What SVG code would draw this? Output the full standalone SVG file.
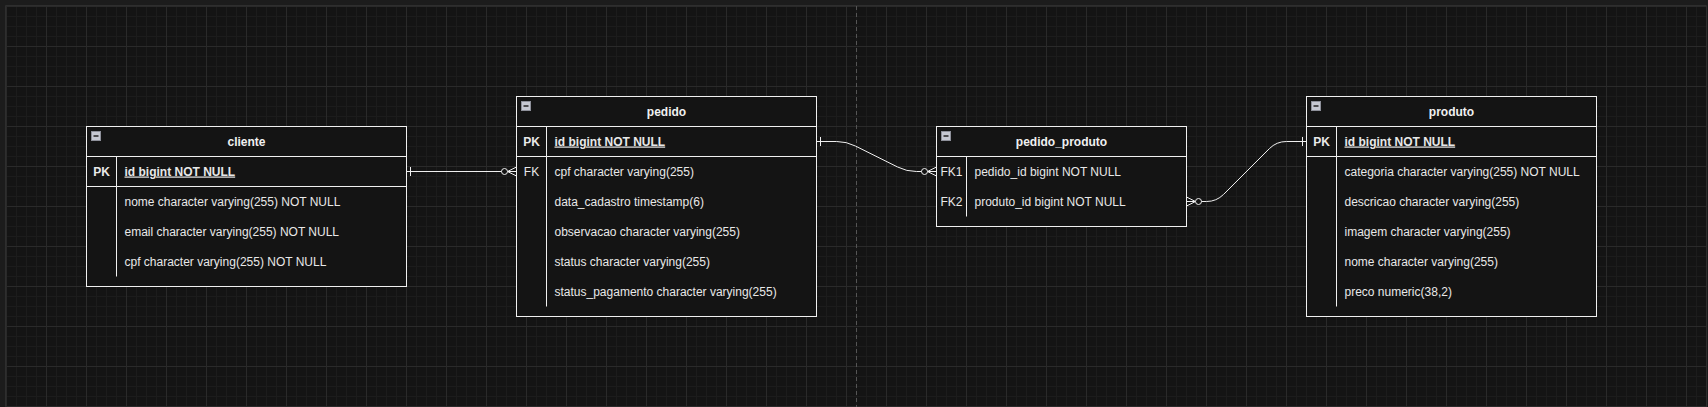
<svg xmlns="http://www.w3.org/2000/svg" width="1708" height="407" viewBox="0 0 1708 407">
<style>
.tbl{fill:#141414;stroke:#f0f0f0;stroke-width:1}
.ln{stroke:#f0f0f0;stroke-width:1;fill:none}
.t{font-family:"Liberation Sans",Arial,sans-serif;font-size:12px;fill:#e8e8e8}
.h{font-family:"Liberation Sans",Arial,sans-serif;font-size:12px;font-weight:bold;fill:#f0f0f0;text-anchor:middle}
.k{font-family:"Liberation Sans",Arial,sans-serif;font-size:12px;fill:#e8e8e8;text-anchor:middle}
.kb{font-weight:bold}
.pk{font-weight:bold;text-decoration:underline}
.edge{stroke:#f0f0f0;stroke-width:1;fill:none}
</style>
<defs>
<pattern id="grid" x="6" y="6" width="40" height="40" patternUnits="userSpaceOnUse">
<rect width="40" height="40" fill="#141414"/>
<path d="M10.5 0V40M20.5 0V40M30.5 0V40M0 10.5H40M0 20.5H40M0 30.5H40" stroke="#1c1c1c" stroke-width="1"/>
<path d="M0.5 0V40M0 0.5H40" stroke="#2a2a2a" stroke-width="1"/>
</pattern>
<marker id="one" markerUnits="userSpaceOnUse" orient="auto-start-reverse" refX="0" refY="0" markerWidth="30" markerHeight="30" viewBox="-15 -15 30 30" overflow="visible">
<path d="M-4 -4.5V4.5" stroke="#f0f0f0" stroke-width="1" fill="none"/>
</marker>
<marker id="zmany" markerUnits="userSpaceOnUse" orient="auto-start-reverse" refX="0" refY="0" markerWidth="30" markerHeight="30" viewBox="-15 -15 30 30" overflow="visible">
<path d="M-9 0L0 -4.5M-9 0L0 4.5" stroke="#f0f0f0" stroke-width="1" fill="none"/>
<circle cx="-12" cy="0" r="3" fill="#141414" stroke="#f0f0f0" stroke-width="1"/>
</marker>
<g id="collapse">
<rect x="0.5" y="0.5" width="9" height="9" fill="#c6c8d2" stroke="#8e909a" stroke-width="1"/>
<path d="M2.5 5H7.5" stroke="#222" stroke-width="1.5"/>
</g>
</defs>
<rect width="1708" height="407" fill="#1c1c1c"/>
<rect x="6" y="6" width="1700" height="401" fill="url(#grid)"/>
<path d="M5.5 407V5.5H1706.5V407" stroke="#2e2e2e" fill="none"/>
<path d="M856.5 6V407" stroke="#555" stroke-width="1" stroke-dasharray="4 3"/>

<g id="connectors">
<path class="edge" d="M406.5 171.5H516.5" marker-start="url(#one)" marker-end="url(#zmany)"/>
<path class="edge" d="M816.5 141.5H836.5Q846.5 141.5 855.4 146L897.6 167Q906.5 171.5 916.5 171.5H936.5" marker-start="url(#one)" marker-end="url(#zmany)"/>
<path class="edge" d="M1186.5 201.5H1206.5Q1216.5 201.5 1223.6 194.4L1269.4 148.6Q1276.5 141.5 1286.5 141.5H1306.5" marker-start="url(#zmany)" marker-end="url(#one)"/>
</g>

<g id="cliente">
<rect class="tbl" x="86.5" y="126.5" width="320" height="160"/>
<path class="ln" d="M86.5 156.5H406.5M86.5 186.5H406.5M116.5 156.5V276.5"/>
<use href="#collapse" x="91" y="131"/>
<text class="h" x="246.5" y="145.5">cliente</text>
<text class="k kb" x="101.5" y="175.5">PK</text>
<text class="t pk" x="124.5" y="175.5">id bigint NOT NULL</text>
<text class="t" x="124.5" y="205.5">nome character varying(255) NOT NULL</text>
<text class="t" x="124.5" y="235.5">email character varying(255) NOT NULL</text>
<text class="t" x="124.5" y="265.5">cpf character varying(255) NOT NULL</text>
</g>

<g id="pedido">
<rect class="tbl" x="516.5" y="96.5" width="300" height="220"/>
<path class="ln" d="M516.5 126.5H816.5M516.5 156.5H816.5M546.5 126.5V306.5"/>
<use href="#collapse" x="521" y="101"/>
<text class="h" x="666.5" y="115.5">pedido</text>
<text class="k kb" x="531.5" y="145.5">PK</text>
<text class="t pk" x="554.5" y="145.5">id bigint NOT NULL</text>
<text class="k" x="531.5" y="175.5">FK</text>
<text class="t" x="554.5" y="175.5">cpf character varying(255)</text>
<text class="t" x="554.5" y="205.5">data_cadastro timestamp(6)</text>
<text class="t" x="554.5" y="235.5">observacao character varying(255)</text>
<text class="t" x="554.5" y="265.5">status character varying(255)</text>
<text class="t" x="554.5" y="295.5">status_pagamento character varying(255)</text>
</g>

<g id="pedido_produto">
<rect class="tbl" x="936.5" y="126.5" width="250" height="100"/>
<path class="ln" d="M936.5 156.5H1186.5M966.5 156.5V216.5"/>
<use href="#collapse" x="941" y="131"/>
<text class="h" x="1061.5" y="145.5">pedido_produto</text>
<text class="k" x="951.5" y="175.5">FK1</text>
<text class="t" x="974.5" y="175.5">pedido_id bigint NOT NULL</text>
<text class="k" x="951.5" y="205.5">FK2</text>
<text class="t" x="974.5" y="205.5">produto_id bigint NOT NULL</text>
</g>

<g id="produto">
<rect class="tbl" x="1306.5" y="96.5" width="290" height="220"/>
<path class="ln" d="M1306.5 126.5H1596.5M1306.5 156.5H1596.5M1336.5 126.5V306.5"/>
<use href="#collapse" x="1311" y="101"/>
<text class="h" x="1451.5" y="115.5">produto</text>
<text class="k kb" x="1321.5" y="145.5">PK</text>
<text class="t pk" x="1344.5" y="145.5">id bigint NOT NULL</text>
<text class="t" x="1344.5" y="175.5">categoria character varying(255) NOT NULL</text>
<text class="t" x="1344.5" y="205.5">descricao character varying(255)</text>
<text class="t" x="1344.5" y="235.5">imagem character varying(255)</text>
<text class="t" x="1344.5" y="265.5">nome character varying(255)</text>
<text class="t" x="1344.5" y="295.5">preco numeric(38,2)</text>
</g>
</svg>
